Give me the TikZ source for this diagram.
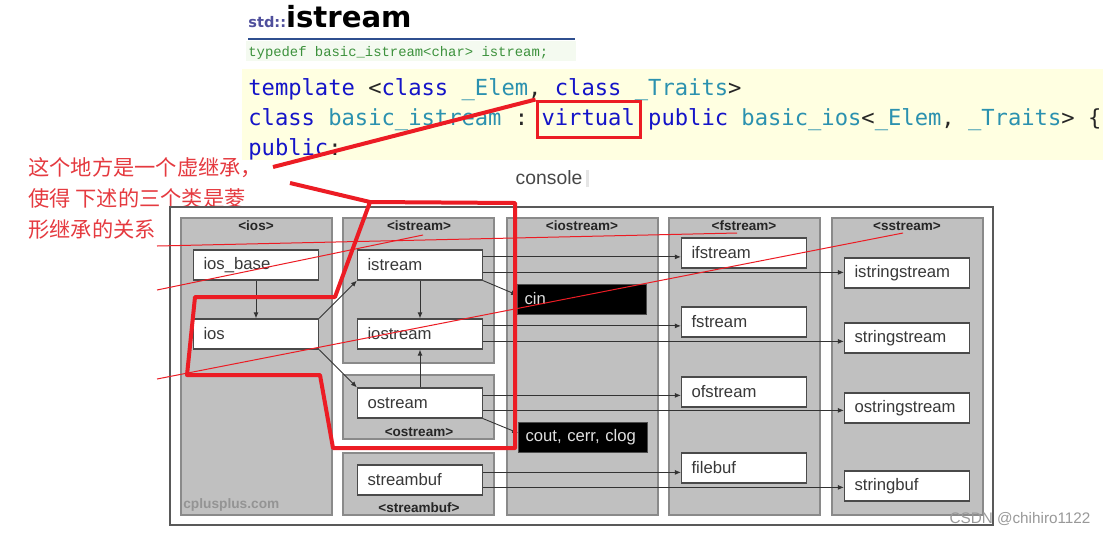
\documentclass[tikz,border=0pt]{standalone}
\usepackage{fontspec}
\setmainfont{Liberation Sans}
\setmonofont{DejaVu Sans Mono}
\newfontfamily\cjk{Noto Sans CJK SC}
\newfontfamily\typefont{Liberation Mono}
\newfontfamily\headfont{DejaVu Sans}
\usepackage{xcolor}
\usepackage{tikz}
\usetikzlibrary{arrows.meta,positioning,calc}

\definecolor{colgray}{HTML}{C0C0C0}
\definecolor{colline}{HTML}{8A8A8A}
\definecolor{boxline}{HTML}{4A4A4A}
\definecolor{kwblue}{HTML}{1414C8}
\definecolor{typeteal}{HTML}{2B91AF}
\definecolor{markred}{HTML}{EC1C24}
\definecolor{notered}{HTML}{E53A40}
\definecolor{codebg}{HTML}{FFFFE1}
\definecolor{stdblue}{HTML}{4F4F9C}
\definecolor{ruleblue}{HTML}{2F4F8F}
\definecolor{tdgreen}{HTML}{3C913C}
\definecolor{tdbg}{HTML}{F4FAF0}

\newcommand{\kw}[1]{\textcolor{kwblue}{#1}}
\newcommand{\ty}[1]{\textcolor{typeteal}{#1}}

\begin{document}
\begin{tikzpicture}[x=0.02cm, y=-0.02cm,
      column/.style={draw=colline,fill=colgray,line width=0.04cm},
      collabel/.style={inner sep=0pt,font=\bfseries\fontsize{7.7}{9}\selectfont,text=black!85},
      cls/.style={draw=boxline,fill=white,line width=0.025cm,minimum height=0.6cm,text width=2.1cm,
        inner xsep=0.2cm,align=left,font=\fontsize{9.5}{11}\selectfont,text=black!78},
      stdobj/.style={draw=black!70,fill=black,minimum height=0.6cm,text width=2.3cm,
        inner xsep=0.14cm,align=left,font=\fontsize{9.5}{11}\selectfont,text=black!12},
      arr/.style={draw=black!80,line width=0.5pt,-{Latex[length=1.2mm,width=1mm]}},
      code/.style={inner sep=0pt,anchor=base west,font=\ttfamily\fontsize{12.6}{15}\selectfont,text=black!85},
      redline/.style={draw=markred,line width=0.08cm,line join=round},
      thinred/.style={draw=markred,line width=0.02cm},
      note/.style={inner sep=0pt,anchor=base west,font=\cjk\fontsize{12.1}{14}\selectfont,text=notered}]
    \useasboundingbox (0,0) rectangle (1111,535);
    \fill[white] (0,0) rectangle (1111,535);

    \node[inner sep=0pt,anchor=base west,font=\headfont\bfseries] (title) at (248,27)
      {\textcolor{stdblue}{\fontsize{8.3}{10}\selectfont std::}\fontsize{16.6}{20}\selectfont istream};
    \fill[tdbg] (246,41) rectangle (576,61);
    \draw[ruleblue,line width=0.04cm] (248,39) -- (575,39);
    \node[inner sep=0pt,anchor=base west,font=\typefont\fontsize{7.9}{9}\selectfont,text=tdgreen] (tdef) at (248,56)
      {typedef basic\_istream<char> istream;};

    \fill[codebg] (242,69) rectangle (1103,160);
    \node[code] (code1) at (248,95) {\kw{template} <\kw{class} \ty{\_Elem}, \kw{class} \ty{\_Traits}>};
    \node[code] (code2) at (248,125) {\kw{class} \ty{basic\_istream} : \kw{virtual} \kw{public} \ty{basic\_ios}<\ty{\_Elem}, \ty{\_Traits}> \{};
    \node[code] (code3) at (248,155) {\kw{public}:};

    \foreach \i/\txt in {1/这个地方是一个虚继承，, 2/使得 下述的三个类是菱, 3/形继承的关系} {
      \node[note] (note\i) at (28,144+31*\i) {\txt};
    }

    \node[inner sep=0pt,font=\fontsize{11}{13}\selectfont,text=black!72] (console) at (549,178) {console};
    \fill[black!10] (586,170) rectangle (589,187);

    \draw[draw=black!65,line width=0.04cm] (170,207) rectangle (993,525);
    \foreach \cx/\lab in {256/ios, 582/iostream, 744/fstream, 907/sstream} {
      \draw[column] (\cx-75.5,218) rectangle (\cx+75.5,515);
      \node[collabel] (lab-\lab) at (\cx,226) {<\lab>};
    }
    \draw[column] (343,218) rectangle (494,363);
    \draw[column] (343,375) rectangle (494,439);
    \draw[column] (343,453) rectangle (494,515);
    \node[collabel] (lab-istream) at (419,226) {<istream>};
    \node[collabel] (lab-ostream) at (419,432) {<ostream>};
    \node[collabel] (lab-streambuf) at (419,508) {<streambuf>};
    \node[inner sep=0pt,anchor=west,font=\bfseries\fontsize{7.8}{9}\selectfont,text=black!42] (site) at (183,505) {cplusplus.com};

    \foreach \name/\txt/\cx/\cy in {iosbase/ios\_base/256/265, ios/ios/256/334,
        istream/istream/420/265, iostream/iostream/420/334, ostream/ostream/420/403, streambuf/streambuf/420/480,
        ifstream/ifstream/744/253, fstream/fstream/744/322, ofstream/ofstream/744/392, filebuf/filebuf/744/468,
        istringstream/istringstream/907/273, stringstream/stringstream/907/338,
        ostringstream/ostringstream/907/408, stringbuf/stringbuf/907/486} {
      \node[cls] (\name) at (\cx,\cy) {\txt};
    }
    \node[stdobj] (cin) at (582,299) {cin};
    \node[stdobj] (cout) at (583,437) {cout, cerr, clog};

    \draw[arr] (iosbase) -- (ios);
    \draw[arr] (istream) -- (iostream);
    \draw[arr] (ostream) -- (iostream);
    \draw[arr] (ios.north east) -- (istream.south west);
    \draw[arr] (ios.south east) -- (ostream.north west);
    \draw[arr] (istream.south east) -- ([yshift=0.08cm]cin.west);
    \draw[arr] (ostream.south east) -- ([yshift=0.08cm]cout.west);
    \foreach \src/\dst/\dy in {istream/ifstream/0.15, istream/istringstream/0.46,
        iostream/fstream/0.15, iostream/stringstream/0.46,
        ostream/ofstream/0.16, ostream/ostringstream/0.46,
        streambuf/filebuf/0.16, streambuf/stringbuf/0.46} {
      \draw[arr] ([yshift=-\dy cm]\src.north east) coordinate (s) -- (s -| \dst.west);
    }

    \node[inner sep=0pt,font=\fontsize{8.7}{10}\selectfont,text=black!40] (mark) at (1020,519) {CSDN @chihiro1122};

    \node[draw=markred,line width=0.06cm,minimum width=2.06cm,minimum height=0.72cm] (virt) at (588.5,119) {};
    \coordinate (noteend) at (273,167);
    \coordinate (polystart) at (290,183);
    \draw[redline] (virt.north west) -- (noteend);
    \draw[redline] (polystart) -- (370,202) -- (515,203) -- (515,448) -- (333,448) -- (320,375)
      -- (187,375) -- (195,297) -- (335,297) -- (370,202);
    \draw[thinred] (157,246) -- (737,233);
    \draw[thinred] (157,290) -- (423,235);
    \draw[thinred] (157,379) -- (903,233);
  \end{tikzpicture}
\end{document}
